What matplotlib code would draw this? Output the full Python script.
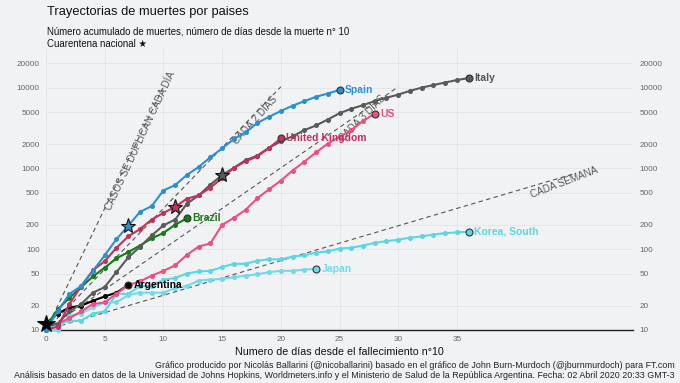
import matplotlib
matplotlib.use("Agg")
import matplotlib.pyplot as plt
import numpy as np

plt.rcParams['font.family'] = ['Liberation Sans', 'DejaVu Sans']

# =========================================================
# Data: cumulative deaths, one value per day since the 10th death
# =========================================================
spain = [10, 17, 28, 35, 54, 84, 133, 195, 289, 342, 533, 623, 830, 1043, 1375,
         1772, 2311, 2808, 3647, 4365, 5138, 5982, 6803, 7716, 8464, 9387]
italy = [11, 12, 17, 21, 29, 34, 52, 79, 107, 148, 197, 233, 366, 463, 631, 827,
         1016, 1266, 1441, 1809, 2158, 2503, 2978, 3405, 4032, 4825, 5476, 6077,
         6820, 7503, 8215, 9134, 10023, 10779, 11591, 12428, 13155]
us = [11, 12, 14, 17, 21, 22, 28, 36, 40, 47, 54, 63, 85, 108, 118, 200, 244,
      307, 427, 552, 706, 942, 1209, 1581, 2026, 2467, 2978, 3873, 4757]
uk = [10, 11, 21, 35, 55, 71, 104, 144, 177, 233, 281, 335, 422, 465, 578, 759,
      1019, 1228, 1408, 1789, 2352]
brazil = [11, 18, 25, 34, 46, 59, 77, 92, 111, 136, 159, 201, 241]
argentina = [12, 16, 19, 20, 23, 26, 29, 36]
korea = [10, 12, 13, 13, 16, 17, 28, 28, 35, 35, 42, 44, 50, 53, 54, 60, 66, 66,
         72, 75, 75, 81, 84, 91, 94, 102, 104, 111, 120, 126, 131, 139, 144, 152,
         158, 162, 165]
japan = [10, 10, 15, 16, 19, 22, 22, 27, 29, 29, 29, 33, 35, 41, 42, 43, 45, 47,
         49, 52, 54, 54, 56, 57]

countries = ["Korea, South", "Japan", "Argentina", "US", "Brazil", "Italy",
             "United Kingdom", "Spain"]
series = {"Spain": spain, "Italy": italy, "US": us, "United Kingdom": uk,
          "Brazil": brazil, "Argentina": argentina, "Korea, South": korea,
          "Japan": japan}
colors = {"Spain": "#2b90cf", "Italy": "#5a5a5a", "US": "#ec4f80",
          "United Kingdom": "#c2305e", "Brazil": "#177a17", "Argentina": "#000000",
          "Korea, South": "#5bd6e3", "Japan": "#72d9e8"}

# day of the national quarantine (star)
quarantine_day = {"Spain": 7, "United Kingdom": 11, "Italy": 15, "Argentina": 0}

# doubling reference lines
doubling_every = [1, 2, 3, 7]
doubling_until = [10, 20, 30, 45]
doubling_text = ["CASOS SE DUPLICAN CADA DÍA", "CADA 2 DÍAS", "CADA 3 DÍAS",
                 "CADA SEMANA"]
text_pos = [(8.0, 2170), (17.8, 4000), (27.0, 4236), (44.1, 663)]
text_angle = [65, 48, 45, 21]

yticks = [10, 20, 50, 100, 200, 500, 1000, 2000, 5000, 10000, 20000]
xticks = [0, 5, 10, 15, 20, 25, 30, 35]

# =========================================================
# Figure
# =========================================================
bg = "#f1f2f4"
fig = plt.figure(figsize=(6.8, 3.83), dpi=100, facecolor=bg)
ax = fig.add_axes([46 / 680, 1 - 330 / 383, (633 - 46) / 680, (330 - 48) / 383])
ax.set_facecolor(bg)
ax.set_yscale("log")
ax.set_xlim(0, 50)
ax.set_ylim(10, 31000)

ax.set_yticks(yticks)
ax.set_yticklabels([str(v) for v in yticks])
ax.yaxis.set_minor_locator(matplotlib.ticker.NullLocator())
ax.set_xticks(xticks)
ax.tick_params(axis="both", length=0, labelsize=5.9, labelcolor="#666666")
ax.tick_params(axis="y", labelright=True, pad=4.5)
ax.tick_params(axis="x", pad=4)
ax.grid(True, color="#e4e6e9", linewidth=0.7)
ax.set_axisbelow(True)
for s in ["top", "left", "right"]:
    ax.spines[s].set_visible(False)
ax.spines["bottom"].set_color("#222222")
ax.spines["bottom"].set_linewidth(1.0)

# reference lines
for d, end, txt, (tx, ty), ang in zip(doubling_every, doubling_until,
                                       doubling_text, text_pos, text_angle):
    xs = np.linspace(0, end, 200)
    ax.plot(xs, 10 * 2 ** (xs / d), color="#555555", lw=0.8,
            linestyle=(0, (4, 3)), zorder=1)
    ax.text(tx, ty, txt, rotation=ang, rotation_mode="anchor", ha="center",
            va="center", fontsize=7.1, color="#555555", zorder=2)

# country trajectories
for c in countries:
    vals = series[c]
    days = np.arange(len(vals))
    col = colors[c]
    ax.plot(days, vals, color=col, lw=1.5, marker="o", markersize=2.6, zorder=3,
            clip_on=False)
    ax.plot(days[-1], vals[-1], "o", color=col, markersize=5,
            markeredgecolor="#333333", markeredgewidth=0.8, zorder=4)
    ax.annotate(c, (days[-1], vals[-1]), xytext=(4, 0), textcoords="offset points",
                va="center", ha="left", fontsize=7.5, fontweight="bold",
                color=col if c != "Italy" else "#555555", zorder=5)
    if c in quarantine_day:
        q = quarantine_day[c]
        ax.plot(q, vals[q], marker="*", color=col, markersize=13 if q == 0 else 11,
                markeredgecolor="#111111", markeredgewidth=0.8, zorder=6,
                clip_on=False)

ax.set_xlabel("Numero de días desde el fallecimiento n°10", fontsize=7.7,
              color="#111111", labelpad=3)

# titles
fig.text(47 / 680, 1 - 12 / 383, "Trayectorias de muertes por paises",
         fontsize=9.3, va="center", ha="left", color="#111111")
fig.text(47 / 680, 1 - 31 / 383,
         "Número acumulado de muertes, número de días desde la muerte n° 10",
         fontsize=6.9, va="center", ha="left", color="#111111")
fig.text(47 / 680, 1 - 44 / 383, "Cuarentena nacional ★",
         fontsize=6.9, va="center", ha="left", color="#111111",
         family=["Liberation Sans", "DejaVu Sans"])

# footer
fig.text(675 / 680, 1 - 366 / 383,
         "Gráfico producido por Nicolás Ballarini (@nicoballarini) basado en el "
         "gráfico de John Burn-Murdoch (@jburnmurdoch) para FT.com",
         fontsize=6.4, ha="right", va="center", color="#222222")
fig.text(675 / 680, 1 - 376 / 383,
         "Análisis basado en datos de la Universidad de Johns Hopkins, "
         "Worldmeters.info y el Ministerio de Salud de la República Argentina. "
         "Fecha: 02 Abril 2020 20:33 GMT-3",
         fontsize=6.4, ha="right", va="center", color="#222222")

fig.savefig("out.png", dpi=100, facecolor=bg)
